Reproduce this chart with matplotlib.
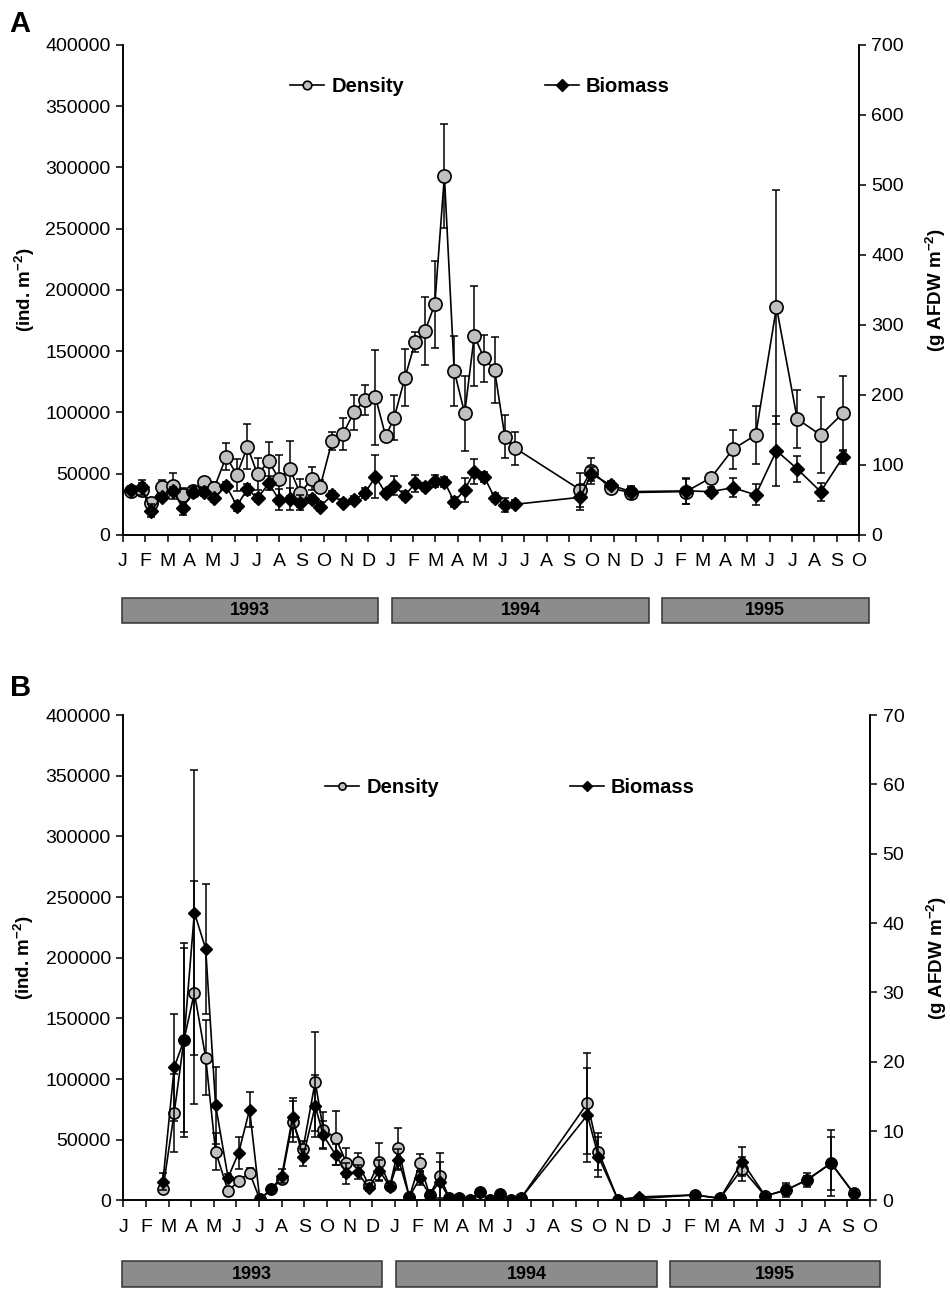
import matplotlib.pyplot as plt
import matplotlib.transforms as mtransforms
from matplotlib.patches import Rectangle
import numpy as np

plt.rcParams['font.family'] = ['Liberation Sans', 'DejaVu Sans']
plt.rcParams['mathtext.default'] = 'regular'

month_labels = list("JFMAMJJASOND") * 2 + list("JFMAMJJASO")
years = ["1993", "1994", "1995"]
year_start = [-0.05, 12.05, 24.15]
year_end = [11.45, 23.6, 33.45]

# sampling dates (months since 1 Jan 1993)
sample_months = [0.35, 0.84, 1.24, 1.75, 2.25, 2.68, 3.14, 3.64, 4.08, 4.63,
                 5.10, 5.58, 6.03, 6.54, 7.00, 7.48, 7.94, 8.48, 8.84, 9.38,
                 9.86, 10.35, 10.84, 11.32, 11.78, 12.16, 12.64, 13.10, 13.54, 13.98,
                 14.41, 14.85, 15.32, 15.75, 16.19, 16.66, 17.12, 17.59, 20.51, 21.00,
                 21.86, 22.77, 25.25, 26.37, 27.35, 28.37, 29.30, 30.23, 31.28, 32.28]

# panel A
density_a = [36000, 37000, 26000, 39000, 40000, 33000, 36000, 43500, 38000, 64000,
             49000, 72000, 49500, 60000, 45500, 54000, 34000, 46000, 39500, 77000,
             82400, 100000, 110000, 112300, 80500, 95800, 128400, 157300, 166500, 188300,
             293100, 133900, 99300, 162700, 144200, 134700, 80300, 70800, 36700, 52500,
             38100, 34600, 35400, 46800, 70000, 81600, 186000, 94700, 81600, 99300]
density_a_err = [4000, 5000, 3000, 6000, 10400, 5000, 4000, 3000, 5000, 10900,
                 12800, 18200, 13000, 15800, 19900, 22600, 11400, 9500, 5000, 7300,
                 13300, 14100, 12200, 38900, 3000, 18500, 23100, 8200, 28000, 35400,
                 42200, 28600, 30500, 40800, 19000, 26700, 17700, 13600, 13600, 10600,
                 5000, 5000, 10000, 3000, 15800, 23700, 95500, 23700, 31300, 30500]
biomass_a = [64.3, 68.1, 34.7, 53.8, 62.9, 38.1, 61.9, 61.9, 52.4, 70.0,
             41.9, 65.2, 52.4, 73.8, 50.0, 51.0, 46.2, 51.0, 40.5, 57.1,
             46.2, 50.0, 59.5, 83.3, 59.5, 70.5, 56.2, 73.8, 68.1, 77.1,
             76.2, 47.6, 64.3, 90.5, 83.3, 53.3, 42.9, 43.8, 53.8, 87.1,
             71.4, 61.9, 62.9, 61.9, 67.6, 57.1, 120.4, 94.3, 61.9, 111.0]
biomass_a_err = [4, 11, 9, 5, 6, 9, 6, 6, 6, 5,
                 7, 8, 6, 10, 15, 16, 11, 6, 6, 5,
                 5, 6, 7, 31, 6, 14, 6, 12, 6, 8,
                 7, 7, 17, 18, 7, 6, 10, 6, 18, 10,
                 6, 6, 18, 6, 14, 15, 50, 18.6, 13, 10]

# panel B (sampling starts with the 4th date)
density_b = [9200, 72300, 132200, 171200, 117700, 40200, 7800, 16100, 22900, 1000,
             9200, 17700, 64900, 42200, 97900, 58100, 51700, 31100, 32000, 12800,
             32000, 12000, 43000, 2600, 30600, 4500, 20400, 1800, 1800, 500,
             6700, 500, 5100, 500, 2300, 80100, 40200, 500, 1500, 4500,
             1800, 26000, 3700, 8700, 16900, 30600, 5900]
density_b_err = [3000, 32000, 76000, 92000, 31000, 15000, 3000, 3000, 4000, 500,
                 2000, 3000, 17000, 7000, 40700, 15000, 22200, 11800, 7400, 3000,
                 15100, 3000, 17000, 1000, 7400, 1000, 18400, 1000, 1000, 500,
                 2000, 500, 2000, 500, 1000, 41700, 15100, 500, 500, 1500,
                 1000, 9900, 1500, 4000, 3000, 22000, 2000]
biomass_b = [2.7, 19.2, 23.1, 41.5, 36.3, 13.7, 3.3, 6.9, 13.1, 0.2,
             1.6, 3.5, 12.0, 6.2, 13.6, 9.4, 6.6, 3.9, 4.1, 1.8,
             4.3, 2.0, 5.9, 0.5, 3.2, 0.8, 2.7, 0.3, 0.3, 0.1,
             1.2, 0.1, 0.9, 0.1, 0.4, 12.3, 6.3, 0.1, 0.5, 0.8,
             0.3, 5.6, 0.65, 1.5, 3.0, 5.4, 1.0]
biomass_b_err = [1.2, 7.7, 14, 20.5, 9.4, 5.6, 0.5, 2.3, 2.5, 0.1,
                 0.5, 1.0, 2.8, 1.2, 4.5, 2.0, 1.5, 1.5, 1.0, 0.5,
                 1.5, 0.5, 1.5, 0.2, 1.0, 0.2, 2.9, 0.1, 0.1, 0.1,
                 0.5, 0.1, 0.5, 0.1, 0.2, 6.8, 2.9, 0.1, 0.1, 0.3,
                 0.1, 2.1, 0.3, 1.0, 1.0, 4.8, 0.5]


def draw_panel(ax, months, dens, dens_err, bio, bio_err, bio_top, leg_pos, bar_y, ms):
    ax2 = ax.twinx()

    ax.errorbar(months, dens, yerr=dens_err, fmt='none', ecolor='black',
                elinewidth=1.1, capsize=3, capthick=1.1, zorder=1)
    ax.plot(months, dens, '-o', color='black', lw=1.2, ms=ms, mfc='#c0c0c0',
            mec='black', mew=1.2, zorder=2, label='Density')
    ax2.errorbar(months, bio, yerr=bio_err, fmt='none', ecolor='black',
                 elinewidth=1.1, capsize=3, capthick=1.1, zorder=1)
    ax2.plot(months, bio, '-D', color='black', lw=1.2, ms=ms * 0.8, mfc='black',
             mec='black', zorder=2, label='Biomass')

    ax.set_xlim(0, 33)
    ax.set_ylim(0, 400000)
    ax2.set_ylim(0, bio_top)
    ax.set_yticks(np.arange(0, 400001, 50000))
    ax.set_yticklabels([str(v) for v in range(0, 400001, 50000)])
    ax2.set_yticks(np.linspace(0, bio_top, 8))
    ax2.set_yticklabels([str(int(round(v))) for v in np.linspace(0, bio_top, 8)])
    ax.set_xticks(range(len(month_labels)))
    ax.set_xticklabels(month_labels)

    for a in (ax, ax2):
        a.spines['top'].set_visible(False)
        for s in a.spines.values():
            s.set_linewidth(1.2)
        a.tick_params(direction='out', length=5, width=1.1, labelsize=14)
    ax.tick_params(axis='x', pad=8)
    ax.tick_params(axis='y', pad=4)
    ax2.tick_params(axis='y', pad=4)

    ax.set_ylabel(r'(ind. m$^{-2}$)', fontsize=13.5, fontweight='bold')
    ax2.set_ylabel(r'(g AFDW m$^{-2}$)', fontsize=13.5, fontweight='bold')
    ax.yaxis.set_label_coords(-0.117, 0.5)

    ax.legend(loc='center left', bbox_to_anchor=leg_pos[0], frameon=False,
              prop={'weight': 'bold', 'size': 14.5}, handlelength=1.7,
              handletextpad=0.35, borderpad=0, borderaxespad=0, markerscale=0.65)
    ax2.legend(loc='center left', bbox_to_anchor=leg_pos[1], frameon=False,
               prop={'weight': 'bold', 'size': 14.5}, handlelength=1.7,
               handletextpad=0.35, borderpad=0, borderaxespad=0, markerscale=0.75)

    trans = mtransforms.blended_transform_factory(ax.transData, ax.transAxes)
    for yr, x0, x1 in zip(years, year_start, year_end):
        ax.add_patch(Rectangle((x0, bar_y[0]), x1 - x0, bar_y[1] - bar_y[0],
                               transform=trans, clip_on=False, facecolor='#8c8c8c',
                               edgecolor='#333333', lw=1.1))
        ax.text((x0 + x1) / 2, (bar_y[0] + bar_y[1]) / 2, yr, transform=trans,
                ha='center', va='center', fontsize=13, fontweight='bold')
    return ax2


fig = plt.figure(figsize=(9.5, 12.89), dpi=100)

ax_a = fig.add_axes([0.1295, 0.5850, 0.7747, 0.3801])
ax_a2 = draw_panel(ax_a, sample_months, density_a, density_a_err, biomass_a, biomass_a_err,
                   700, [(0.227, 0.916), (0.573, 0.916)], (-0.180, -0.128), 9.5)
ax_a2.yaxis.set_label_coords(1.088, 0.5)

ax_b = fig.add_axes([0.1298, 0.0687, 0.7860, 0.3766])
ax_b2 = draw_panel(ax_b, sample_months[3:], density_b, density_b_err, biomass_b, biomass_b_err,
                   70, [(0.270, 0.850), (0.598, 0.850)], (-0.179, -0.125), 8)
ax_b2.yaxis.set_label_coords(1.073, 0.5)

fig.text(0.010, 0.981, 'A', fontsize=21, fontweight='bold', va='center', ha='left')
fig.text(0.010, 0.466, 'B', fontsize=21, fontweight='bold', va='center', ha='left')

fig.savefig('out.png', dpi=100)
